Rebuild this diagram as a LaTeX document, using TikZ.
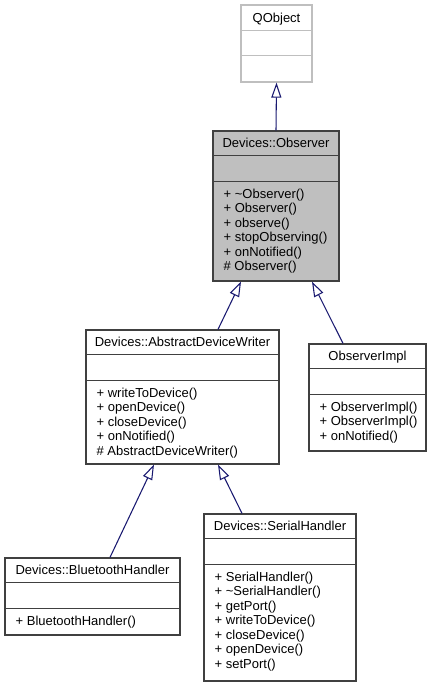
\documentclass[tikz,border=0pt]{standalone}
\usepackage{fontspec}
\setmainfont{Liberation Sans}
\usetikzlibrary{arrows.meta}
\definecolor{edgeblue}{HTML}{191970}
\definecolor{boxline}{HTML}{404040}
\definecolor{greyfill}{HTML}{BFBFBF}
\tikzset{classbox/.style={shape=rectangle,draw=boxline,line width=0.9pt,fill=white,inner sep=0pt},
	extbox/.style={classbox,draw=greyfill},
	hitbox/.style={classbox,fill=greyfill},
	classname/.style={anchor=base,inner sep=0pt,font=\fontsize{9.75}{10.875}\selectfont},
	members/.style={anchor=north west,inner sep=0pt,align=left,font=\fontsize{9.75}{10.875}\selectfont},
	divider/.style={draw=boxline,line width=0.9pt},
	inherits/.style={draw=edgeblue,line width=0.8pt,-{Triangle[open,length=11.25pt,width=7.5pt]}}}

\begin{document}
\begin{tikzpicture}[x=0.75pt,y=-0.75pt]
	\useasboundingbox (0,0) rectangle (431,684);

	\node[extbox,minimum width=53.25pt,minimum height=57.75pt] (qobj) at (276.5,43.5) {};
	\node[hitbox,minimum width=94.5pt,minimum height=112.5pt] (obs) at (276,206) {};
	\node[classbox,minimum width=144.75pt,minimum height=100.5pt] (adw) at (182.5,397) {};
	\node[classbox,minimum width=87.75pt,minimum height=80.25pt] (impl) at (367.5,397.5) {};
	\node[classbox,minimum width=131.25pt,minimum height=57.75pt] (bt) at (92.5,596.5) {};
	\node[classbox,minimum width=114pt,minimum height=125.25pt] (serial) at (280,597.5) {};

	\draw[divider,draw=greyfill] ([yshift=-19.5pt]qobj.north west) -- ([yshift=-19.5pt]qobj.north east);
	\draw[divider,draw=greyfill] ([yshift=-38.25pt]qobj.north west) -- ([yshift=-38.25pt]qobj.north east);
	\foreach \c in {obs,adw,impl,bt,serial} {
		\draw[divider] ([yshift=-18.75pt]\c.north west) -- ([yshift=-18.75pt]\c.north east);
		\draw[divider] ([yshift=-38.25pt]\c.north west) -- ([yshift=-38.25pt]\c.north east);
	}

	\node[classname] (qobjname) at ([yshift=-13.5pt]qobj.north) {QObject};
	\node[classname] (obsname) at ([yshift=-12.75pt]obs.north) {Devices::Observer};
	\node[classname] (adwname) at ([yshift=-12.75pt]adw.north) {Devices::AbstractDeviceWriter};
	\node[classname] (implname) at ([yshift=-12.75pt]impl.north) {ObserverImpl};
	\node[classname] (btname) at ([yshift=-12.75pt]bt.north) {Devices::BluetoothHandler};
	\node[classname] (serialname) at ([yshift=-12.75pt]serial.north) {Devices::SerialHandler};

	\node[members] (obsops) at ([xshift=8.25pt,yshift=-43.5pt]obs.north west)
		{+ \textasciitilde Observer()\\+ Observer()\\+ observe()\\+ stopObserving()\\+ onNotified()\\\# Observer()};
	\node[members] (adwops) at ([xshift=8.25pt,yshift=-43.5pt]adw.north west)
		{+ writeToDevice()\\+ openDevice()\\+ closeDevice()\\+ onNotified()\\\# AbstractDeviceWriter()};
	\node[members] (implops) at ([xshift=8.25pt,yshift=-43.5pt]impl.north west)
		{+ ObserverImpl()\\+ ObserverImpl()\\+ onNotified()};
	\node[members] (btops) at ([xshift=8.25pt,yshift=-43.5pt]bt.north west)
		{+ BluetoothHandler()};
	\node[members] (serialops) at ([xshift=8.25pt,yshift=-43.5pt]serial.north west)
		{+ SerialHandler()\\+ \textasciitilde SerialHandler()\\+ getPort()\\+ writeToDevice()\\+ closeDevice()\\+ openDevice()\\+ setPort()};

	\draw[inherits] (obs.north) -- (qobj.south);
	\draw[inherits] ([xshift=26.625pt]adw.north) -- ([xshift=-26.25pt]obs.south);
	\draw[inherits] ([xshift=-18.375pt]impl.north) -- ([xshift=27pt]obs.south);
	\draw[inherits] ([xshift=13.125pt]bt.north) -- ([xshift=-21.375pt]adw.south);
	\draw[inherits] ([xshift=-28.5pt]serial.north) -- ([xshift=26.625pt]adw.south);
\end{tikzpicture}
\end{document}
